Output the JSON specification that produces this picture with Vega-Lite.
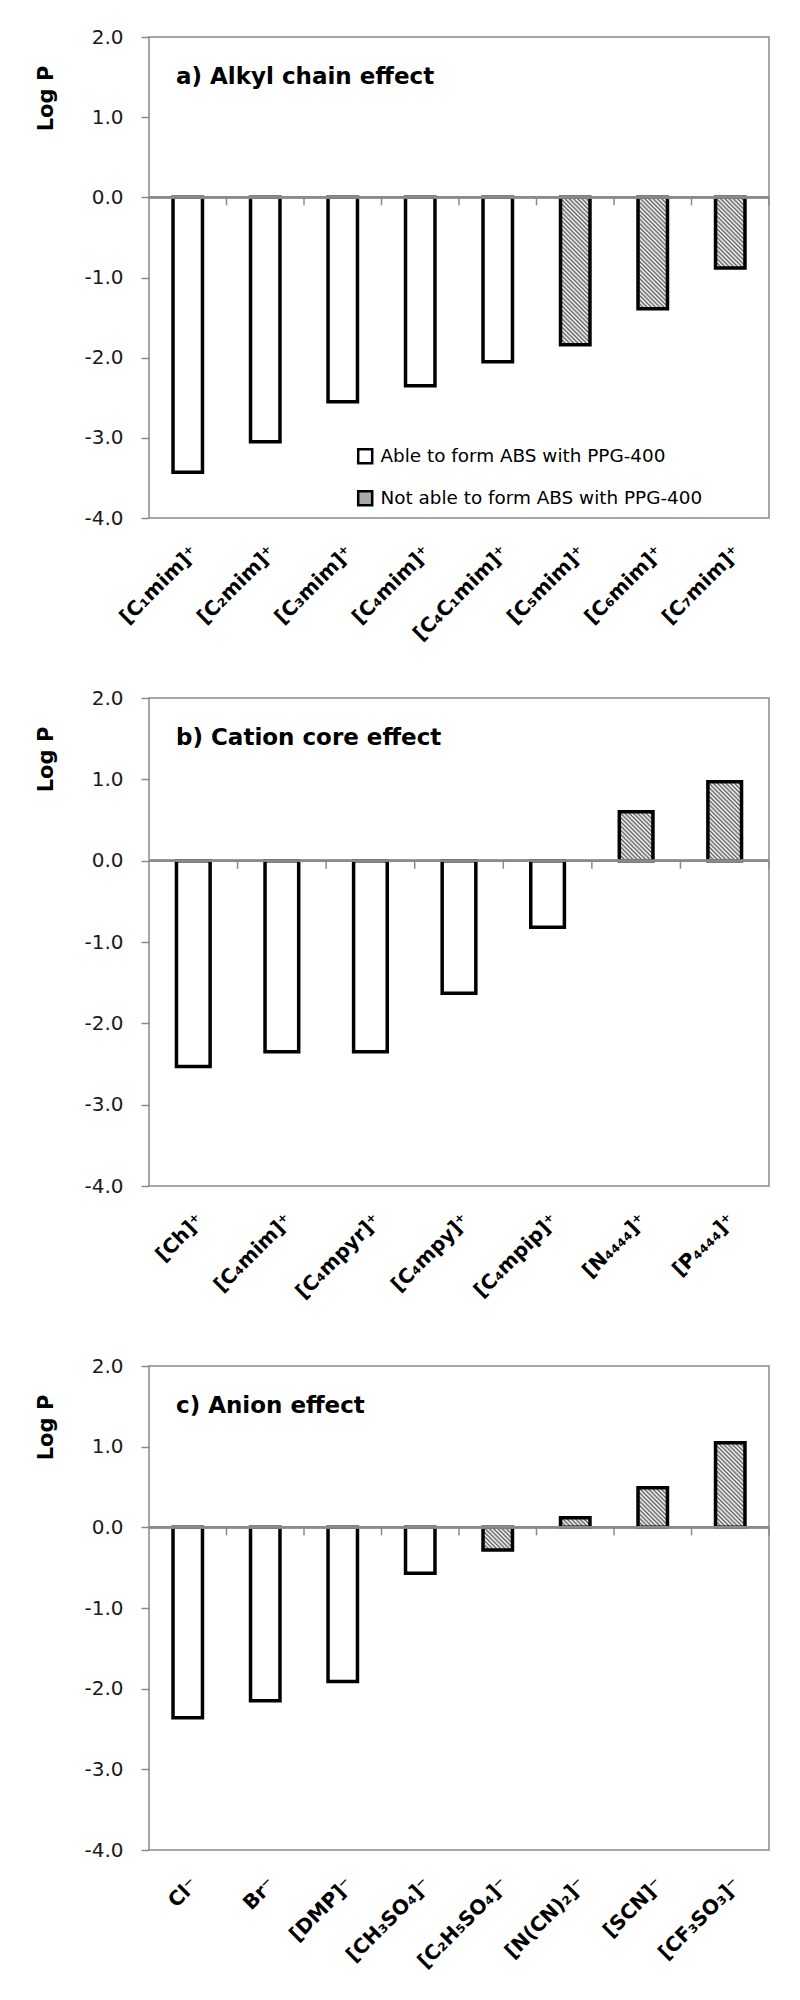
{
  "$schema": "https://vega.github.io/schema/vega-lite/v6.json",
  "background": "white",
  "padding": {"left": 35, "top": 26, "right": 5, "bottom": 5},
  "params": [
    {"name": "hs", "value": [
      {"offset": 0, "color": "#ffffff"}, {"offset": 0.0119, "color": "#606060"}, {"offset": 0.0238, "color": "#ffffff"}, {"offset": 0.0357, "color": "#606060"},
      {"offset": 0.0476, "color": "#ffffff"}, {"offset": 0.0595, "color": "#606060"}, {"offset": 0.0714, "color": "#ffffff"}, {"offset": 0.0833, "color": "#606060"},
      {"offset": 0.0952, "color": "#ffffff"}, {"offset": 0.1071, "color": "#606060"}, {"offset": 0.1190, "color": "#ffffff"}, {"offset": 0.1310, "color": "#606060"},
      {"offset": 0.1429, "color": "#ffffff"}, {"offset": 0.1548, "color": "#606060"}, {"offset": 0.1667, "color": "#ffffff"}, {"offset": 0.1786, "color": "#606060"},
      {"offset": 0.1905, "color": "#ffffff"}, {"offset": 0.2024, "color": "#606060"}, {"offset": 0.2143, "color": "#ffffff"}, {"offset": 0.2262, "color": "#606060"},
      {"offset": 0.2381, "color": "#ffffff"}, {"offset": 0.2500, "color": "#606060"}, {"offset": 0.2619, "color": "#ffffff"}, {"offset": 0.2738, "color": "#606060"},
      {"offset": 0.2857, "color": "#ffffff"}, {"offset": 0.2976, "color": "#606060"}, {"offset": 0.3095, "color": "#ffffff"}, {"offset": 0.3214, "color": "#606060"},
      {"offset": 0.3333, "color": "#ffffff"}, {"offset": 0.3452, "color": "#606060"}, {"offset": 0.3571, "color": "#ffffff"}, {"offset": 0.3690, "color": "#606060"},
      {"offset": 0.3810, "color": "#ffffff"}, {"offset": 0.3929, "color": "#606060"}, {"offset": 0.4048, "color": "#ffffff"}, {"offset": 0.4167, "color": "#606060"},
      {"offset": 0.4286, "color": "#ffffff"}, {"offset": 0.4405, "color": "#606060"}, {"offset": 0.4524, "color": "#ffffff"}, {"offset": 0.4643, "color": "#606060"},
      {"offset": 0.4762, "color": "#ffffff"}, {"offset": 0.4881, "color": "#606060"}, {"offset": 0.5000, "color": "#ffffff"}, {"offset": 0.5119, "color": "#606060"},
      {"offset": 0.5238, "color": "#ffffff"}, {"offset": 0.5357, "color": "#606060"}, {"offset": 0.5476, "color": "#ffffff"}, {"offset": 0.5595, "color": "#606060"},
      {"offset": 0.5714, "color": "#ffffff"}, {"offset": 0.5833, "color": "#606060"}, {"offset": 0.5952, "color": "#ffffff"}, {"offset": 0.6071, "color": "#606060"},
      {"offset": 0.6190, "color": "#ffffff"}, {"offset": 0.6310, "color": "#606060"}, {"offset": 0.6429, "color": "#ffffff"}, {"offset": 0.6548, "color": "#606060"},
      {"offset": 0.6667, "color": "#ffffff"}, {"offset": 0.6786, "color": "#606060"}, {"offset": 0.6905, "color": "#ffffff"}, {"offset": 0.7024, "color": "#606060"},
      {"offset": 0.7143, "color": "#ffffff"}, {"offset": 0.7262, "color": "#606060"}, {"offset": 0.7381, "color": "#ffffff"}, {"offset": 0.7500, "color": "#606060"},
      {"offset": 0.7619, "color": "#ffffff"}, {"offset": 0.7738, "color": "#606060"}, {"offset": 0.7857, "color": "#ffffff"}, {"offset": 0.7976, "color": "#606060"},
      {"offset": 0.8095, "color": "#ffffff"}, {"offset": 0.8214, "color": "#606060"}, {"offset": 0.8333, "color": "#ffffff"}, {"offset": 0.8452, "color": "#606060"},
      {"offset": 0.8571, "color": "#ffffff"}, {"offset": 0.8690, "color": "#606060"}, {"offset": 0.8810, "color": "#ffffff"}, {"offset": 0.8929, "color": "#606060"},
      {"offset": 0.9048, "color": "#ffffff"}, {"offset": 0.9167, "color": "#606060"}, {"offset": 0.9286, "color": "#ffffff"}, {"offset": 0.9405, "color": "#606060"},
      {"offset": 0.9524, "color": "#ffffff"}, {"offset": 0.9643, "color": "#606060"}, {"offset": 0.9762, "color": "#ffffff"}, {"offset": 0.9881, "color": "#606060"},
      {"offset": 1, "color": "#ffffff"}
    ]}
  ],
  "config": {
    "font": "DejaVu Sans",
    "view": {"stroke": "#8a8a8a", "strokeWidth": 1.5},
    "axisY": {
      "labelExpr": "datum.value < 0 ? '-' + format(-datum.value, '.1f') : format(datum.value, '.1f')",
      "labelFont": "DejaVu Sans",
      "labelFontSize": 20,
      "labelColor": "#1a1a1a",
      "labelPadding": 18,
      "tickSize": 8,
      "tickColor": "#8a8a8a",
      "tickWidth": 1.5,
      "domain": false,
      "grid": false,
      "titleFont": "DejaVu Sans",
      "titleFontSize": 21,
      "titleFontWeight": "bold",
      "titleColor": "black",
      "titlePadding": 27,
      "titleY": 61
    },
    "axisX": {
      "labelAngle": -45,
      "labelFont": "DejaVu Sans",
      "labelFontSize": 20,
      "labelFontWeight": "bold",
      "labelColor": "black",
      "labelPadding": 24,
      "labelLimit": 300,
      "ticks": false,
      "domain": false,
      "grid": false,
      "title": null
    },
    "title": {
      "anchor": "start",
      "frame": "group",
      "orient": "top",
      "offset": 0,
      "dx": 27,
      "dy": 66,
      "baseline": "alphabetic",
      "font": "DejaVu Sans",
      "fontSize": 23,
      "fontWeight": "bold",
      "color": "black"
    }
  },
  "datasets": {
    "a": [
      {"ion": "[C₁mim]⁺", "logP": -3.43, "abs": "Able to form ABS with PPG-400"},
      {"ion": "[C₂mim]⁺", "logP": -3.05, "abs": "Able to form ABS with PPG-400"},
      {"ion": "[C₃mim]⁺", "logP": -2.55, "abs": "Able to form ABS with PPG-400"},
      {"ion": "[C₄mim]⁺", "logP": -2.35, "abs": "Able to form ABS with PPG-400"},
      {"ion": "[C₄C₁mim]⁺", "logP": -2.05, "abs": "Able to form ABS with PPG-400"},
      {"ion": "[C₅mim]⁺", "logP": -1.84, "abs": "Not able to form ABS with PPG-400"},
      {"ion": "[C₆mim]⁺", "logP": -1.39, "abs": "Not able to form ABS with PPG-400"},
      {"ion": "[C₇mim]⁺", "logP": -0.88, "abs": "Not able to form ABS with PPG-400"}
    ],
    "b": [
      {"ion": "[Ch]⁺", "logP": -2.53, "abs": "Able to form ABS with PPG-400"},
      {"ion": "[C₄mim]⁺", "logP": -2.35, "abs": "Able to form ABS with PPG-400"},
      {"ion": "[C₄mpyr]⁺", "logP": -2.35, "abs": "Able to form ABS with PPG-400"},
      {"ion": "[C₄mpy]⁺", "logP": -1.63, "abs": "Able to form ABS with PPG-400"},
      {"ion": "[C₄mpip]⁺", "logP": -0.82, "abs": "Able to form ABS with PPG-400"},
      {"ion": "[N₄₄₄₄]⁺", "logP": 0.6, "abs": "Not able to form ABS with PPG-400"},
      {"ion": "[P₄₄₄₄]⁺", "logP": 0.97, "abs": "Not able to form ABS with PPG-400"}
    ],
    "c": [
      {"ion": "Cl⁻", "logP": -2.36, "abs": "Able to form ABS with PPG-400"},
      {"ion": "Br⁻", "logP": -2.15, "abs": "Able to form ABS with PPG-400"},
      {"ion": "[DMP]⁻", "logP": -1.91, "abs": "Able to form ABS with PPG-400"},
      {"ion": "[CH₃SO₄]⁻", "logP": -0.57, "abs": "Able to form ABS with PPG-400"},
      {"ion": "[C₂H₅SO₄]⁻", "logP": -0.28, "abs": "Not able to form ABS with PPG-400"},
      {"ion": "[N(CN)₂]⁻", "logP": 0.12, "abs": "Not able to form ABS with PPG-400"},
      {"ion": "[SCN]⁻", "logP": 0.49, "abs": "Not able to form ABS with PPG-400"},
      {"ion": "[CF₃SO₃]⁻", "logP": 1.05, "abs": "Not able to form ABS with PPG-400"}
    ]
  },
  "vconcat": [
    {
      "width": 620,
      "height": 481,
      "title": {"text": "a) Alkyl chain effect"},
      "data": {"name": "a"},
      "layer": [
        {
          "mark": {"type": "bar", "width": {"band": 0.38}, "stroke": "black", "strokeWidth": 3.5},
          "encoding": {
            "x": {"field": "ion", "type": "nominal", "sort": null, "scale": {"paddingInner": 0, "paddingOuter": 0}},
            "y": {"field": "logP", "type": "quantitative", "scale": {"domain": [-4, 2], "nice": false}, "title": "Log P", "axis": {"values": [-4, -3, -2, -1, 0, 1, 2]}},
            "fill": {
              "field": "abs", "type": "nominal",
              "scale": {"domain": ["Able to form ABS with PPG-400", "Not able to form ABS with PPG-400"], "range": ["white", "#a8a8a8"]},
              "condition": {
                "test": "datum.abs === 'Not able to form ABS with PPG-400'",
                "value": {"expr": "{gradient: 'linear', x1: 0, y1: 1, x2: 178.2 * 29.45 / (29.45 * 29.45 + pow(abs(datum.logP) * 80.17, 2)), y2: 1 - 178.2 * abs(datum.logP) * 80.17 / (29.45 * 29.45 + pow(abs(datum.logP) * 80.17, 2)), stops: hs}"}
              },
              "legend": {
                "orient": "none", "legendX": 207, "legendY": 410, "title": null,
                "symbolType": "square", "symbolSize": 196, "symbolStrokeColor": "black", "symbolStrokeWidth": 2.5,
                "labelFont": "DejaVu Sans", "labelFontSize": 18.4, "labelColor": "black", "labelOffset": 6,
                "rowPadding": 17, "padding": 0, "labelLimit": 500
              }
            }
          }
        },
        {
          "mark": {"type": "rule", "color": "#8a8a8a", "strokeWidth": 2},
          "encoding": {"y": {"datum": 0}}
        },
        {
          "mark": {"type": "rule", "color": "#8a8a8a", "strokeWidth": 1.5},
          "encoding": {
            "x": {"field": "ion", "type": "nominal", "sort": null, "bandPosition": 1},
            "y": {"datum": 0},
            "y2": {"datum": -0.1}
          }
        }
      ]
    },
    {
      "width": 620,
      "height": 488,
      "title": {"text": "b) Cation core effect"},
      "data": {"name": "b"},
      "layer": [
        {
          "mark": {"type": "bar", "width": {"band": 0.38}, "stroke": "black", "strokeWidth": 3.5},
          "encoding": {
            "x": {"field": "ion", "type": "nominal", "sort": null, "scale": {"paddingInner": 0, "paddingOuter": 0}},
            "y": {"field": "logP", "type": "quantitative", "scale": {"domain": [-4, 2], "nice": false}, "title": "Log P", "axis": {"values": [-4, -3, -2, -1, 0, 1, 2]}},
            "fill": {
              "field": "abs", "type": "nominal",
              "scale": {"domain": ["Able to form ABS with PPG-400", "Not able to form ABS with PPG-400"], "range": ["white", "#a8a8a8"]},
              "condition": {
                "test": "datum.abs === 'Not able to form ABS with PPG-400'",
                "value": {"expr": "{gradient: 'linear', x1: 0, y1: 1, x2: 178.2 * 33.66 / (33.66 * 33.66 + pow(abs(datum.logP) * 81.33, 2)), y2: 1 - 178.2 * abs(datum.logP) * 81.33 / (33.66 * 33.66 + pow(abs(datum.logP) * 81.33, 2)), stops: hs}"}
              },
              "legend": null
            }
          }
        },
        {
          "mark": {"type": "rule", "color": "#8a8a8a", "strokeWidth": 2},
          "encoding": {"y": {"datum": 0}}
        },
        {
          "mark": {"type": "rule", "color": "#8a8a8a", "strokeWidth": 1.5},
          "encoding": {
            "x": {"field": "ion", "type": "nominal", "sort": null, "bandPosition": 1},
            "y": {"datum": 0},
            "y2": {"datum": -0.1}
          }
        }
      ]
    },
    {
      "width": 620,
      "height": 484,
      "title": {"text": "c) Anion effect"},
      "data": {"name": "c"},
      "layer": [
        {
          "mark": {"type": "bar", "width": {"band": 0.38}, "stroke": "black", "strokeWidth": 3.5},
          "encoding": {
            "x": {"field": "ion", "type": "nominal", "sort": null, "scale": {"paddingInner": 0, "paddingOuter": 0}},
            "y": {"field": "logP", "type": "quantitative", "scale": {"domain": [-4, 2], "nice": false}, "title": "Log P", "axis": {"values": [-4, -3, -2, -1, 0, 1, 2]}},
            "fill": {
              "field": "abs", "type": "nominal",
              "scale": {"domain": ["Able to form ABS with PPG-400", "Not able to form ABS with PPG-400"], "range": ["white", "#a8a8a8"]},
              "condition": {
                "test": "datum.abs === 'Not able to form ABS with PPG-400'",
                "value": {"expr": "{gradient: 'linear', x1: 0, y1: 1, x2: 178.2 * 29.45 / (29.45 * 29.45 + pow(abs(datum.logP) * 80.67, 2)), y2: 1 - 178.2 * abs(datum.logP) * 80.67 / (29.45 * 29.45 + pow(abs(datum.logP) * 80.67, 2)), stops: hs}"}
              },
              "legend": null
            }
          }
        },
        {
          "mark": {"type": "rule", "color": "#8a8a8a", "strokeWidth": 2},
          "encoding": {"y": {"datum": 0}}
        },
        {
          "mark": {"type": "rule", "color": "#8a8a8a", "strokeWidth": 1.5},
          "encoding": {
            "x": {"field": "ion", "type": "nominal", "sort": null, "bandPosition": 1},
            "y": {"datum": 0},
            "y2": {"datum": -0.1}
          }
        }
      ]
    }
  ],
  "spacing": 180,
  "bounds": "flush",
  "resolve": {"scale": {"x": "independent", "y": "independent", "fill": "independent"}, "legend": {"fill": "independent"}}
}
